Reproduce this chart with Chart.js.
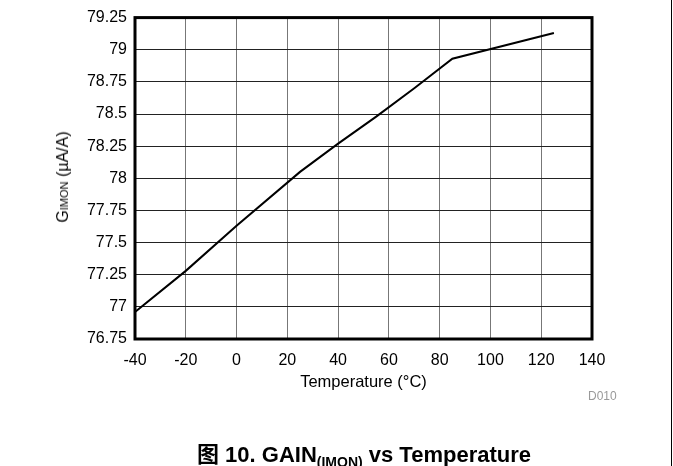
<!DOCTYPE html>
<html>
<head>
<meta charset="utf-8">
<script src="https://cdn.jsdelivr.net/npm/chart.js@4/dist/chart.umd.min.js"></script>
<style>
  html, body { margin: 0; padding: 0; background: #fff; }
  #wrap { position: relative; width: 673px; height: 466px; overflow: hidden; font-family: "Liberation Sans", Arial, "Noto Sans CJK SC", sans-serif; }
  #myChart { position: absolute; left: 0; top: 0; }
  #ytitle { position: absolute; left: 63px; top: 177px; transform: translate(-50%, -50%) rotate(-90deg); white-space: nowrap; font-size: 16px; font-weight: normal; color: #000; }
  #ytitle span { font-size: 11px; }
  #code { position: absolute; left: 588px; top: 389px; font-size: 12px; color: #999; }
  #caption { position: absolute; left: 0; width: 728px; top: 436px; text-align: center; font-weight: bold; font-size: 22px; color: #000; white-space: nowrap; }
  #caption sub { font-size: 14px; }
  #pageline { position: absolute; left: 671px; top: 0; width: 1px; height: 466px; background: #000; }
</style>
</head>
<body>
<div id="wrap">
  <canvas id="myChart" width="673" height="466"></canvas>
  <div id="ytitle">G<span>IMON</span> (µA/A)</div>
  <div id="code">D010</div>
  <div id="caption">图 10. GAIN<sub>(IMON)</sub> vs Temperature</div>
  <div id="pageline"></div>
</div>
<script>
// values
var temperature = [-40, -20, 0, 25, 40, 55, 70, 85, 125];
var gainImon = [76.96, 77.28, 77.63, 78.05, 78.27, 78.48, 78.70, 78.93, 79.13];
var xTickLabels = ['-40', '-20', '0', '20', '40', '60', '80', '100', '120', '140'];
var yTickLabels = ['76.75', '77', '77.25', '77.5', '77.75', '78', '78.25', '78.5', '78.75', '79', '79.25'];

var points = temperature.map(function (t, i) { return { x: t, y: gainImon[i] }; });

// thick frame round the plot area
var frame = {
    id: 'frame',
    afterDatasetsDraw: function (chart) {
        var a = chart.chartArea, c = chart.ctx;
        c.save();
        c.strokeStyle = '#000';
        c.lineWidth = 3;
        c.strokeRect(a.left, a.top, a.right - a.left, a.bottom - a.top);
        c.restore();
    }
};

var ctx = document.getElementById('myChart').getContext('2d');
var myChart = new Chart(ctx, {
    type: 'line',
    data: {
        datasets: [{
            data: points,
            borderColor: '#000',
            borderWidth: 2,
            pointRadius: 0,
            tension: 0,
            fill: false
        }]
    },
    options: {
        responsive: false,
        animation: false,
        layout: { padding: { left: 0, top: 14, right: 81, bottom: 74 } },
        plugins: { legend: { display: false }, tooltip: { enabled: false } },
        scales: {
            x: {
                type: 'linear',
                min: -40,
                max: 140,
                afterBuildTicks: function (s) {
                    s.ticks = xTickLabels.map(function (v) { return { value: parseFloat(v) }; });
                },
                afterFit: function (s) { s.height = 53; },
                ticks: {
                    padding: 12,
                    color: '#000',
                    font: { family: '"Liberation Sans", Arial, sans-serif', size: 16 },
                    callback: function (v, i) { return xTickLabels[i]; }
                },
                grid: { color: '#777', lineWidth: 1, drawTicks: false },
                border: { display: false },
                title: {
                    display: true,
                    text: 'Temperature (°C)',
                    color: '#000',
                    padding: 0,
                    font: { family: '"Liberation Sans", Arial, sans-serif', size: 16.5 }
                }
            },
            y: {
                min: 76.75,
                max: 79.25,
                afterBuildTicks: function (s) {
                    s.ticks = yTickLabels.map(function (v) { return { value: parseFloat(v) }; });
                },
                afterFit: function (s) { s.width = 135; },
                ticks: {
                    padding: 8,
                    color: '#000',
                    font: { family: '"Liberation Sans", Arial, sans-serif', size: 16 },
                    callback: function (v, i) { return yTickLabels[i]; }
                },
                grid: { color: '#222', lineWidth: 1, drawTicks: false },
                border: { display: false }
            }
        }
    },
    plugins: [frame]
});
</script>
</body>
</html>
